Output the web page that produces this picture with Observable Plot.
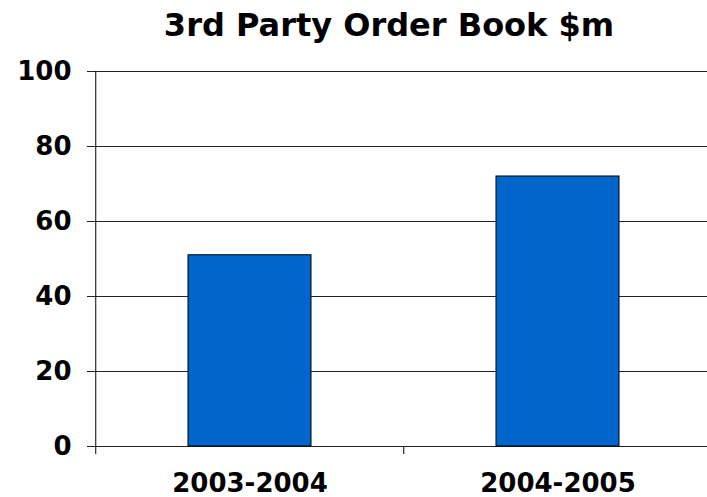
<!DOCTYPE html>
<html>
<head>
<meta charset="utf-8">
<script src="https://cdn.jsdelivr.net/npm/d3@7"></script>
<script src="https://cdn.jsdelivr.net/npm/@observablehq/plot@0.6"></script>
<style>
  html, body { margin: 0; padding: 0; background: #fff; overflow: hidden; }
  #title { font-family: "DejaVu Sans", Verdana, sans-serif; font-weight: bold; font-size: 32px;
           height: 55px; line-height: 50px; box-sizing: border-box; padding-left: 71px; text-align: center; width: 707px; color: #000; white-space: nowrap; }
  svg { display: block; }
</style>
</head>
<body>
<div id="title">3rd Party Order Book $m</div>
<div id="chart"></div>
<script>
const categories = ["2003-2004", "2004-2005"];
const values = [51, 72];
const yTicks = [0, 20, 40, 60, 80, 100];

const data = categories.map((c, i) => ({category: c, value: values[i]}));
const xRange = [95, 712];
const step = (xRange[1] - xRange[0]) / categories.length;

const chart = Plot.plot({
  width: 707,
  height: 442,
  marginTop: 16,
  marginBottom: 51,
  marginLeft: 95,
  marginRight: 0,
  style: {fontFamily: "DejaVu Sans, Verdana, sans-serif", fontWeight: "bold", fontSize: "26px", color: "#000", background: "#fff", overflow: "visible"},
  x: {domain: categories, range: xRange, paddingInner: 0.6, paddingOuter: 0.3, tickSize: 0, tickPadding: 27, label: null},
  y: {domain: [0, 100], ticks: yTicks, tickSize: 0, tickPadding: 24, label: null},
  marks: [
    Plot.ruleY(yTicks, {stroke: "#222", strokeWidth: 1, insetLeft: -8}),
    Plot.barY(data, {x: "category", y: "value", fill: "#0066CC", stroke: "#000", strokeWidth: 1}),
    Plot.ruleX(categories, {x: d => d, dx: -step / 2, y1: d => d === categories[0] ? 100 : 0, y2: 0, insetBottom: -8, stroke: "#000", strokeWidth: 1})
  ]
});
document.getElementById("chart").appendChild(chart);
</script>
</body>
</html>
